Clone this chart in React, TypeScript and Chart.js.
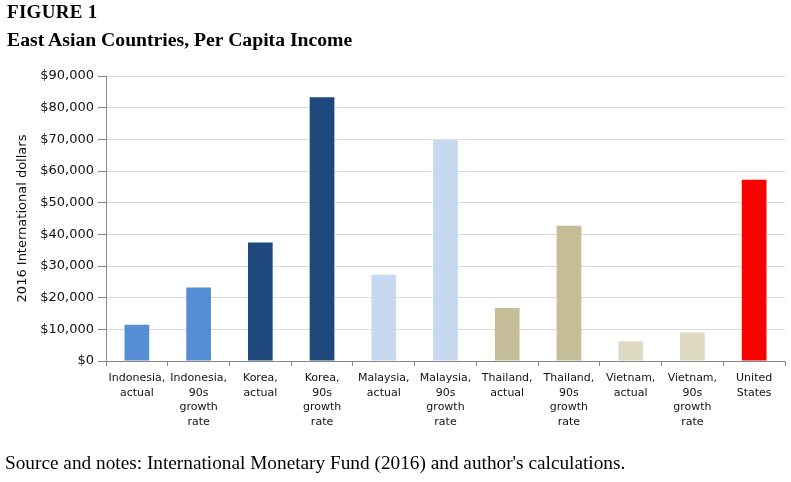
import React, { useEffect, useRef } from "react";
import { Chart, registerables } from "chart.js";

Chart.register(...registerables);

const categories: string[][] = [
  ["Indonesia,", "actual"],
  ["Indonesia,", "90s", "growth", "rate"],
  ["Korea,", "actual"],
  ["Korea,", "90s", "growth", "rate"],
  ["Malaysia,", "actual"],
  ["Malaysia,", "90s", "growth", "rate"],
  ["Thailand,", "actual"],
  ["Thailand,", "90s", "growth", "rate"],
  ["Vietnam,", "actual"],
  ["Vietnam,", "90s", "growth", "rate"],
  ["United", "States"],
];

const incomeValues: number[] = [
  11450, 23250, 37450, 83300, 27200, 69800, 16700, 42700, 6200, 9000, 57200,
];

const barColors: string[] = [
  "#558ED5", "#558ED5",
  "#1F497D", "#1F497D",
  "#C6D9F1", "#C6D9F1",
  "#C4BD97", "#C4BD97",
  "#DDD9C3", "#DDD9C3",
  "#FF0000",
];

const yMin = 0;
const yMax = 90000;
const yStep = 10000;

const figureLabel = "FIGURE 1";
const titleText = "East Asian Countries, Per Capita Income";
const yAxisTitle = "2016 International dollars";
const sourceText = "Source and notes: International Monetary Fund (2016) and author's calculations.";

export default function App() {
  const canvasRef = useRef<HTMLCanvasElement | null>(null);

  useEffect(() => {
    if (!canvasRef.current) return;
    const chart = new Chart(canvasRef.current, {
      type: "bar",
      data: {
        labels: categories,
        datasets: [
          {
            data: incomeValues,
            backgroundColor: barColors,
            borderWidth: 0,
            categoryPercentage: 1,
            barPercentage: 0.4,
          },
        ],
      },
      options: {
        animation: false,
        responsive: false,
        devicePixelRatio: 1,
        layout: { padding: { top: 76, right: 6, bottom: 51, left: 0 } },
        plugins: {
          legend: { display: false },
          tooltip: { enabled: false },
        },
        scales: {
          x: {
            afterFit: (s: any) => {
              s.height = 70;
            },
            grid: {
              drawOnChartArea: false,
              drawTicks: true,
              tickLength: 5,
              tickColor: "#868686",
              offset: true,
            },
            border: { color: "#868686", width: 1 },
            ticks: {
              color: "#111111",
              padding: 5,
              maxRotation: 0,
              autoSkip: false,
              font: { family: "DejaVu Sans", size: 11, lineHeight: 1.32 },
            },
          },
          y: {
            min: yMin,
            max: yMax,
            afterFit: (s: any) => {
              s.width = 106;
            },
            grid: {
              color: "#dcdcdc",
              lineWidth: 1,
              tickLength: 8,
              tickColor: "#868686",
            },
            border: { color: "#868686", width: 1 },
            ticks: {
              stepSize: yStep,
              color: "#111111",
              padding: 4,
              font: { family: "DejaVu Sans", size: 13 },
              callback: (v: any) => "$" + Number(v).toLocaleString("en-US"),
            },
            title: {
              display: true,
              text: yAxisTitle,
              color: "#111111",
              padding: { top: 15, bottom: 0 },
              font: { family: "DejaVu Sans", size: 13, lineHeight: 1.2 },
            },
          },
        },
      },
    });
    return () => chart.destroy();
  }, []);

  return (
    <div
      style={{
        position: "fixed",
        left: 0,
        top: 0,
        width: 791,
        height: 482,
        background: "#ffffff",
        overflow: "hidden",
      }}
    >
      <canvas
        ref={canvasRef}
        width={791}
        height={482}
        style={{ position: "absolute", left: 0, top: 0, width: 791, height: 482 }}
      />
      <div
        style={{
          position: "absolute",
          left: 7,
          top: 1.5,
          fontFamily: "'Liberation Serif', serif",
          fontWeight: "bold",
          fontSize: 19,
          letterSpacing: 0.3,
          lineHeight: "19px",
          color: "#000",
          whiteSpace: "nowrap",
        }}
      >
        {figureLabel}
      </div>
      <div
        style={{
          position: "absolute",
          left: 7,
          top: 29.5,
          fontFamily: "'Liberation Serif', serif",
          fontWeight: "bold",
          fontSize: 19.7,
          lineHeight: "19.7px",
          color: "#000",
          whiteSpace: "nowrap",
        }}
      >
        {titleText}
      </div>
      <div
        style={{
          position: "absolute",
          left: 5,
          top: 453,
          fontFamily: "'Liberation Serif', serif",
          fontSize: 19.3,
          lineHeight: "19.3px",
          color: "#000",
          whiteSpace: "nowrap",
        }}
      >
        {sourceText}
      </div>
    </div>
  );
}
